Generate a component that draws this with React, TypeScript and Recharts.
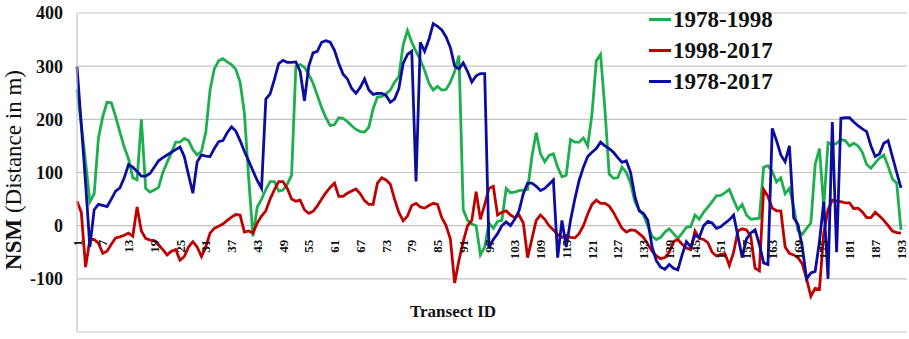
import { CartesianGrid, Legend, Line, LineChart, XAxis, YAxis } from "recharts";

const FONT = '"Liberation Serif", "Times New Roman", serif';

const transects = Array.from({ length: 193 }, (_, i) => i + 1);
const xTicks = [1, 7, 13, 19, 25, 31, 37, 43, 49, 55, 61, 67, 73, 79, 85, 91, 97, 103, 109, 115, 121, 127, 133, 139, 145, 151, 157, 163, 169, 175, 181, 187, 193];
const yTicks = [-200, -100, 0, 100, 200, 300, 400];

// NSM values (m) per transect
const nsm7898 = [
  256, 190, 120, 45, 60, 165, 205, 232, 231, 205,
  176, 148, 126, 90, 86, 200, 70, 63, 67, 72,
  100, 119, 137, 157, 157, 164, 160, 143, 133, 140,
  175, 255, 295, 310, 314, 308, 303, 294, 270, 212,
  90, -20, 35, 50, 68, 83, 83, 65, 67, 78,
  95, 300, 303, 298, 285, 268, 245, 222, 203, 188,
  190, 203, 202, 196, 188, 181, 177, 176, 185, 220,
  242, 243, 248, 255, 270, 280, 340, 367, 345, 328,
  312, 292, 268, 255, 262, 255, 256, 270, 290, 320,
  30, 10, 3, 0, -55, -40, 5, -5, 8, 10,
  70, 62, 63, 66, 67, 68, 130, 175, 135, 120,
  132, 135, 110, 92, 95, 162, 157, 157, 165, 150,
  210, 310, 322, 220, 97, 89, 90, 110, 100, 80,
  45, 30, 20, 0, -20, -26, -22, -12, -6, -15,
  -24, -14, -3, -2, 20, 12, 25, 35, 45, 56,
  57, 62, 68, 48, 30, 40, 20, 12, 13, 14,
  110, 113, 102, 82, 90, 60, 70, 35, -10, -16,
  -5, 5, 115, 145, 36, 156, 152, 155, 162, 160,
  150, 155, 150, 138, 115, 108, 118, 127, 133, 112,
  88, 80, -8,
];

const nsm9817 = [
  46, 25, -78, -26, -26, -33, -52, -48, -35, -23,
  -21, -18, -14, -20, 35, -10, -24, -27, -28, -36,
  -45, -55, -48, -45, -65, -58, -40, -30, -40, -58,
  -40, -14, -5, -1, 3, 10, 16, 21, 20, -12,
  -10, -14, 5, 18, 28, 50, 68, 83, 83, 70,
  50, 46, 48, 30, 23, 27, 37, 50, 62, 72,
  80, 55, 55, 61, 65, 69, 60, 47, 40, 40,
  80, 90, 86, 78, 50, 25, 9, 18, 38, 42,
  35, 33, 38, 42, 40, 15, 0, -25, -108, -65,
  -30, 0, 10, 64, 12, 40, 70, 74, 20, 25,
  28, 20, 15, 20, 5, -60, -25, 10, 20, 12,
  0, -8, -17, -22, -18, -22, -23, -15, 0, 22,
  40, 48, 42, 42, 37, 25, 10, -5, -12, -8,
  -9, -15, -22, -35, -48, -57, -62, -60, -50, -30,
  -26, -35, -42, -45, -10, -24, -26, -32, -50, -57,
  -54, -53, -75, -50, -10, -6, -8, -20, -80, -85,
  68, 55, 33, 28, 28, -40, -52, -55, -60, -72,
  -100, -133, -118, -120, -14, 30, 48, 46, 45, 43,
  43, 32, 33, 26, 15, 15, 25, 18, 10, 0,
  -10, -13, -14,
];

const nsm7817 = [
  299, 190, 80, -40, 30, 40, 38, 36, 50, 65,
  71, 90, 115, 110, 102, 93, 93, 98, 110, 122,
  128, 133, 138, 143, 148, 130, 95, 61, 120, 133,
  131, 130, 145, 158, 160, 175, 186, 178, 160, 140,
  122, 103, 85, 70, 238, 248, 275, 305, 311, 307,
  307, 308, 290, 235, 300, 325, 328, 345, 348, 345,
  330, 305, 285, 276, 258, 249, 260, 276, 255, 247,
  249, 249, 245, 232, 238, 258, 305, 322, 328, 83,
  345, 328, 350, 380, 375, 368, 355, 335, 300, 295,
  306, 290, 270, 282, 286, 286, -42, -26, -15, 0,
  7, 0, 12, 28, 60, 80, 80, 74, 66, 70,
  78, 86, -60, 10, -40, 10, 50, 85, 110, 130,
  138, 145, 157, 150, 145, 138, 128, 119, 122, 100,
  55, 28, 23, 10, -40, -66, -78, -82, -73, -80,
  -83, -55, -30, -40, -18, -22, 0, 8, 5, -5,
  -2, 5, 11, 20, -20, -60, -25, -14, -8, -35,
  -70, -73, 183, 160, 133, 120, 150, 15, 2, -40,
  -100, -89, -86, -30, 45, -100, 195, -50, 202, 203,
  203, 195, 188, 182, 177, 150, 130, 135, 155, 160,
  130, 100, 71,
];

const series = [
  { key: "p1", name: "1978-1998", color: "#1DAF4E", values: nsm7898 },
  { key: "p2", name: "1998-2017", color: "#C00000", values: nsm9817 },
  { key: "p3", name: "1978-2017", color: "#0C0CA0", values: nsm7817 },
];

const data = transects.map((t, i) => ({
  id: t,
  p1: nsm7898[i],
  p2: nsm9817[i],
  p3: nsm7817[i],
}));

const W = 909;
const H = 339;
const M = { top: 13, right: 2, left: 0, bottom: 6 };
const PLOT_H = H - M.top - M.bottom - 1;
const zeroY = M.top + (PLOT_H * 400) / 600;

function XTick(props: any) {
  const { x, payload } = props;
  const y = zeroY + 14;
  return (
    <text
      x={x}
      y={y}
      transform={`rotate(-90, ${x}, ${y})`}
      textAnchor="end"
      dy="0.35em"
      fontFamily={FONT}
      fontSize={13}
      fontWeight="bold"
      fill="#111"
    >
      {payload.value}
    </text>
  );
}

function LegendBox() {
  return (
    <div style={{ fontFamily: FONT, fontWeight: "bold", fontSize: 23, color: "#111" }}>
      {series.map((s) => (
        <div key={s.key} style={{ display: "flex", alignItems: "center", height: 31 }}>
          <span style={{ display: "inline-block", width: 22, height: 3, background: s.color, marginRight: 2 }} />
          <span>{s.name}</span>
        </div>
      ))}
    </div>
  );
}

export default function App() {
  return (
    <div style={{ position: "absolute", left: 0, top: 0, width: W, height: H, background: "#fff" }}>
      <LineChart width={W} height={H} data={data} margin={M}>
        <CartesianGrid vertical={false} stroke="#C4C4C4" strokeWidth={1.2} />
        <XAxis
          dataKey="id"
          type="number"
          domain={[1, 194.4]}
          ticks={xTicks}
          interval={0}
          height={1}
          axisLine={false}
          tickLine={false}
          tick={<XTick />}
        />
        <YAxis
          domain={[-200, 400]}
          ticks={yTicks}
          width={77}
          axisLine={{ stroke: "#C4C4C4", strokeWidth: 1.2 }}
          tickLine={false}
          tickMargin={8}
          tick={{ fill: "#111", fontSize: 18, fontWeight: "bold", fontFamily: FONT }}
        />
        <Legend
          layout="vertical"
          align="center"
          verticalAlign="middle"
          content={<LegendBox />}
          wrapperStyle={{ left: 649, top: 4, width: 170 }}
        />
        {series.map((s) => (
          <Line
            key={s.key}
            dataKey={s.key}
            name={s.name}
            stroke={s.color}
            strokeWidth={2.8}
            dot={false}
            type="linear"
            isAnimationActive={false}
          />
        ))}
      </LineChart>
      <svg width={W} height={H} style={{ position: "absolute", left: 0, top: 0, pointerEvents: "none" }}>
        <text
          x={21}
          y={170}
          transform="rotate(-90, 21, 170)"
          textAnchor="middle"
          fontFamily={FONT}
          fontSize={23}
          fill="#111"
        >
          <tspan fontWeight="bold">NSM</tspan>
          <tspan> (Distance in m)</tspan>
        </text>
        <text x={453} y={317} textAnchor="middle" fontFamily={FONT} fontSize={17} fontWeight="bold" fill="#111">
          Transect ID
        </text>
      </svg>
    </div>
  );
}
